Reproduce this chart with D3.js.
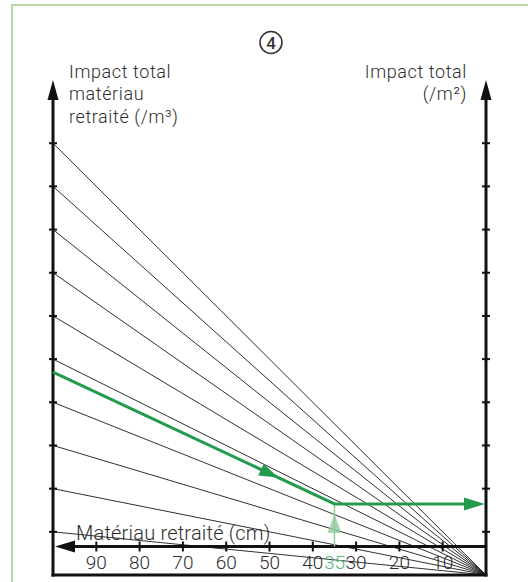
<!DOCTYPE html>
<html><head><meta charset="utf-8">
<script src="https://cdn.jsdelivr.net/npm/d3@7"></script>
<style>body{margin:0;background:#fff} text{font-family:Roboto, sans-serif;font-weight:300;fill:#2e2e2e}</style>
</head><body><svg id="c" width="528" height="582"></svg>
<script>
// ---- data ----
const thicknessTicks = [90, 80, 70, 60, 50, 40, 30, 20, 10];
const impactTicks = [1, 2, 3, 4, 5, 6, 7, 8, 9, 10];
const fanValues = [1, 2, 3, 4, 5, 6, 7, 8, 9, 10];
const selectedImpact = 4.7;      // impact per m3 (left axis)
const selectedThickness = 35;    // cm
const arrowAtThickness = 48;     // where the direction arrow sits on the slanted line
const leftTitle = ["Impact total", "matériau", "retraité (/m³)"];
const rightTitle = ["Impact total", "(/m²)"];
const xTitle = "Matériau retraité (cm)";
const stepLabel = "4";

// ---- layout ----
const svg = d3.select("#c");
const x = d3.scaleLinear().domain([0, 100]).range([486, 53]);
const y = d3.scaleLinear().domain([0, 10]).range([575, 143.2]);
const axisY = 546.5;
const arrowTopY = 80;
const green = "#239b4c";
const lightGreen = "#8ecb9e";
const ink = "#111";

// frame
svg.append("rect").attr("x", 12).attr("y", 5).attr("width", 540).attr("height", 600)
  .attr("fill", "none").attr("stroke", "#b9d89f").attr("stroke-width", 2);

// fan lines: impact per m2 = impact per m3 * thickness
const line = d3.line().x(d => x(d[0])).y(d => y(d[1]));
svg.append("g").selectAll("path").data(fanValues).join("path")
  .attr("d", v => line([[100, v], [0, 0]].map(d => [d[0], v * d[0] / 100])))
  .attr("fill", "none").attr("stroke", "#1a1a1a").attr("stroke-width", 0.9);

// vertical axes with arrows
[0, 100].forEach(t => {
  const xx = x(t);
  svg.append("line").attr("x1", xx).attr("x2", xx).attr("y1", y(0) + 1.5).attr("y2", arrowTopY + 15)
    .attr("stroke", ink).attr("stroke-width", 3);
  svg.append("path").attr("d", `M${xx},${arrowTopY}L${xx - 5.5},${arrowTopY + 20}L${xx + 5.5},${arrowTopY + 20}Z`).attr("fill", ink);
  svg.append("g").selectAll("line").data(impactTicks).join("line")
    .attr("x1", xx - 4).attr("x2", xx + 4).attr("y1", d => y(d)).attr("y2", d => y(d))
    .attr("stroke", ink).attr("stroke-width", 2);
});
// box bottom
svg.append("line").attr("x1", x(100) - 1.5).attr("x2", x(0) + 1.5).attr("y1", y(0)).attr("y2", y(0))
  .attr("stroke", ink).attr("stroke-width", 3);

// horizontal axis (arrow to the left)
const xStart = x(100) + 2;
svg.append("line").attr("x1", xStart + 15).attr("x2", x(0)).attr("y1", axisY).attr("y2", axisY)
  .attr("stroke", ink).attr("stroke-width", 3.2);
svg.append("path").attr("d", `M${xStart},${axisY}L${xStart + 20},${axisY - 6}L${xStart + 20},${axisY + 6}Z`).attr("fill", ink);
svg.append("g").selectAll("line").data(thicknessTicks).join("line")
  .attr("x1", d => x(d)).attr("x2", d => x(d)).attr("y1", axisY - 5).attr("y2", axisY + 5)
  .attr("stroke", ink).attr("stroke-width", 2);
svg.append("g").selectAll("text").data(thicknessTicks).join("text")
  .attr("x", d => x(d)).attr("y", 568.5).attr("text-anchor", "middle")
  .attr("font-size", 19).text(d => d);

// highlighted thickness
const yAt = y(selectedImpact * selectedThickness / 100);
svg.append("line").attr("x1", x(selectedThickness)).attr("x2", x(selectedThickness))
  .attr("y1", axisY).attr("y2", yAt).attr("stroke", lightGreen).attr("stroke-width", 1.5);
const ax = x(selectedThickness), tipY = yAt + 10;
svg.append("path").attr("d", `M${ax},${tipY}L${ax - 7},${tipY + 19}L${ax + 7},${tipY + 19}Z`)
  .attr("fill", lightGreen).attr("opacity", 0.8);
svg.append("text").attr("x", x(selectedThickness)).attr("y", 568.5).attr("text-anchor", "middle")
  .attr("font-size", 19).style("fill", "#4fb574").text(selectedThickness);

// x title
svg.append("text").attr("x", 76).attr("y", 540).attr("font-size", 20)
  .attr("letter-spacing", 0.2).text(xTitle);

// green reading path
const pts = [[100, selectedImpact], [selectedThickness, selectedImpact * selectedThickness / 100], [0, selectedImpact * selectedThickness / 100]];
svg.append("path").attr("d", line(pts.slice(0, 2).concat([[pts[2][0] + 4.5, pts[2][1]]])))
  .attr("fill", "none").attr("stroke", green).attr("stroke-width", 3).attr("stroke-linejoin", "round");
// arrowhead at right axis
const hx = x(0) - 1, hy = y(pts[2][1]);
svg.append("path").attr("d", `M${hx},${hy}L${hx - 21},${hy - 6.5}L${hx - 21},${hy + 6.5}Z`).attr("fill", green);
// arrowhead along slanted segment
const p0 = [x(pts[0][0]), y(pts[0][1])], p1 = [x(pts[1][0]), y(pts[1][1])];
const len = Math.hypot(p1[0] - p0[0], p1[1] - p0[1]);
const u = [(p1[0] - p0[0]) / len, (p1[1] - p0[1]) / len], n = [-u[1], u[0]];
const tip = [x(arrowAtThickness), y(selectedImpact * arrowAtThickness / 100)];
const b = [tip[0] - 19 * u[0], tip[1] - 19 * u[1]];
svg.append("path").attr("d", `M${tip}L${b[0] + 6.5 * n[0]},${b[1] + 6.5 * n[1]}L${b[0] - 6.5 * n[0]},${b[1] - 6.5 * n[1]}Z`).attr("fill", green);

// titles
svg.append("g").selectAll("text").data(leftTitle).join("text")
  .attr("x", 69).attr("y", (d, i) => 77.5 + i * 22.5).attr("font-size", 18)
  .attr("letter-spacing", 0.6).text(d => d);
svg.append("g").selectAll("text").data(rightTitle).join("text")
  .attr("x", 467).attr("y", (d, i) => 77.5 + i * 22.5).attr("font-size", 18)
  .attr("letter-spacing", 0.6).attr("text-anchor", "end").text(d => d);

// step marker
svg.append("circle").attr("cx", 271).attr("cy", 42.5).attr("r", 11)
  .attr("fill", "none").attr("stroke", "#333").attr("stroke-width", 1.6);
svg.append("text").attr("x", 271).attr("y", 48.5).attr("text-anchor", "middle")
  .attr("font-size", 17).style("font-weight", 500).style("fill", "#333").text(stepLabel);
</script></body></html>
